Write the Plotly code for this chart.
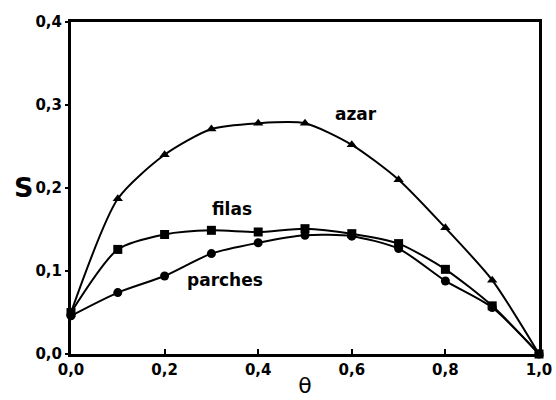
import plotly.graph_objects as go

theta = [0.0, 0.1, 0.2, 0.3, 0.4, 0.5, 0.6, 0.7, 0.8, 0.9, 1.0]
azar = [0.050, 0.187, 0.240, 0.271, 0.278, 0.278, 0.252, 0.210, 0.152, 0.089, 0.0]
filas = [0.050, 0.126, 0.144, 0.149, 0.147, 0.151, 0.145, 0.133, 0.102, 0.058, 0.0]
parches = [0.046, 0.074, 0.094, 0.121, 0.134, 0.143, 0.142, 0.127, 0.088, 0.056, 0.0]

series = [("azar", azar, "triangle-up"), ("filas", filas, "square"), ("parches", parches, "circle")]
labels = [("azar", 0.61, 0.289), ("filas", 0.344, 0.175), ("parches", 0.33, 0.089)]

FONT = "DejaVu Sans"

W, H = 556, 400
ML, MR, MT, MB = 71, 17, 22, 46
PW, PH = W - ML - MR, H - MT - MB

fig = go.Figure()
for name, ys, sym in series:
    fig.add_trace(go.Scatter(
        x=theta, y=ys, mode="lines+markers", name=name,
        line=dict(color="black", width=2, shape="spline", smoothing=0.7),
        marker=dict(symbol=sym, size=9, color="black"),
        showlegend=False, cliponaxis=False))

for txt, x, y in labels:
    fig.add_annotation(x=x, y=y, text=txt, showarrow=False,
                       font=dict(family=FONT, size=17, color="black", weight="bold"))

fig.add_annotation(x=(23 - ML) / PW, y=(H - MB - 187) / PH, xref="paper", yref="paper",
                   text="S", showarrow=False, xanchor="center", yanchor="middle",
                   font=dict(family=FONT, size=27, color="black", weight="bold"))

fig.update_layout(
    width=W, height=H,
    margin=dict(l=ML, r=MR, t=MT, b=MB, autoexpand=False),
    paper_bgcolor="white", plot_bgcolor="white",
    separators=",.",
    font=dict(family=FONT, color="black"),
)
fig.update_xaxes(range=[0, 1], tickvals=[0, 0.2, 0.4, 0.6, 0.8, 1.0], tickformat=".1f",
                 showgrid=False, zeroline=False, showline=True, linecolor="black", linewidth=3,
                 mirror=True, ticks="inside", ticklen=5, tickwidth=2, tickcolor="black",
                 tickfont=dict(size=15, weight="bold"), automargin=False,
                 title=dict(text="θ", font=dict(size=22), standoff=0))
fig.update_yaxes(range=[0, 0.4], tickvals=[0, 0.1, 0.2, 0.3, 0.4], tickformat=".1f",
                 showgrid=False, zeroline=False, showline=True, linecolor="black", linewidth=3,
                 mirror=True, ticks="outside", ticklen=3, tickwidth=2, tickcolor="black",
                 tickfont=dict(size=15, weight="bold"), automargin=False)

fig.write_html("out.html", config={"displayModeBar": False},
               post_script="document.body.style.margin='0';document.body.style.overflow='hidden';")
